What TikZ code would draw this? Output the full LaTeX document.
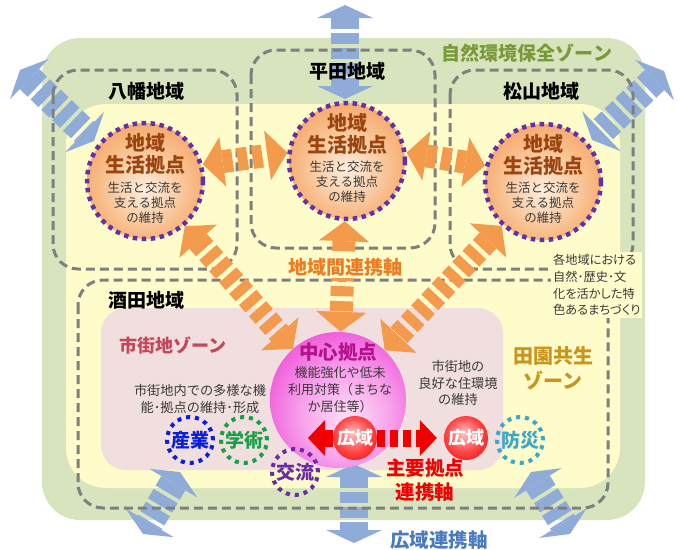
\documentclass[tikz,border=0pt]{standalone}
\usepackage{fontspec}
\setmainfont{Noto Sans CJK JP}
\usetikzlibrary{arrows.meta}
\definecolor{greenzone}{HTML}{D7E4BE}
\definecolor{yellowzone}{HTML}{FEFCCB}
\definecolor{pinkzone}{HTML}{F1DEDF}
\definecolor{dashgray}{HTML}{7F7F7F}
\definecolor{orangeax}{HTML}{F39A4C}
\definecolor{blueax}{HTML}{8FACD9}
\definecolor{purpledot}{HTML}{6430A8}
\definecolor{browntext}{HTML}{9A4510}
\definecolor{olivetext}{HTML}{7A9A3A}
\definecolor{orangetext}{HTML}{EE7B22}
\definecolor{zonered}{HTML}{C24759}
\definecolor{magtext}{HTML}{B3128C}
\definecolor{goldtext}{HTML}{C9951C}
\definecolor{redC}{HTML}{F00000}
\definecolor{bluetext}{HTML}{4A7BBF}
\definecolor{darktext}{HTML}{3A3A3A}
\definecolor{sangyoC}{HTML}{0A1FD8}
\definecolor{gakujutsuC}{HTML}{18A048}
\definecolor{koryuC}{HTML}{6A2CA0}
\definecolor{bosaiC}{HTML}{3EA6C6}
\definecolor{oc1}{HTML}{FDEEDF}
\definecolor{oc2}{HTML}{F8BC88}
\definecolor{oc3}{HTML}{EF8C42}
\definecolor{oc4}{HTML}{E6772A}
\definecolor{mc1}{HTML}{FFE2F7}
\definecolor{mc2}{HTML}{F8A4EB}
\definecolor{mc3}{HTML}{EE46D8}
\definecolor{mc4}{HTML}{DC0EC4}
\definecolor{rc1}{HTML}{FFC4C4}
\definecolor{rc2}{HTML}{FF4444}
\definecolor{rc3}{HTML}{E40000}
\definecolor{rc4}{HTML}{C80000}
\pgfdeclareradialshading{orangeball}{\pgfpoint{0bp}{-4bp}}{color(0bp)=(oc1); color(20bp)=(oc2); color(40bp)=(oc3); color(56bp)=(oc4)}
\pgfdeclareradialshading{magball}{\pgfpoint{4bp}{-8bp}}{color(0bp)=(mc1); color(16bp)=(mc2); color(34bp)=(mc3); color(58bp)=(mc4)}
\pgfdeclareradialshading{redball}{\pgfpoint{-3bp}{6bp}}{color(0bp)=(rc1); color(20bp)=(rc2); color(40bp)=(rc3); color(56bp)=(rc4)}
\tikzset{
  regionbox/.style={draw=dashgray, line width=3pt, dash pattern=on 9pt off 5pt, rounded corners=25pt},
  lifeball/.style={circle, minimum size=116pt, inner sep=0pt, shading=orangeball, draw=purpledot, line width=4.5pt, dash pattern=on 4.5pt off 4.5pt},
  centerball/.style={circle, minimum size=136pt, inner sep=0pt, shading=magball},
  wideball/.style={circle, minimum size=44pt, inner sep=0pt, shading=redball, text=white, font=\bfseries\fontsize{18}{20}\selectfont},
  smallring/.style={circle, minimum size=46pt, inner sep=0pt, line width=4pt, dash pattern=on 4pt off 5pt, font=\bfseries\fontsize{19}{21}\selectfont},
  ctitle/.style={align=center, inner sep=0pt, text=browntext, font=\bfseries\fontsize{20}{22}\selectfont},
  cbody/.style={align=center, inner sep=0pt, text=darktext, font=\fontsize{12.5}{15}\selectfont},
  region/.style={inner sep=0pt, font=\bfseries\fontsize{19}{21}\selectfont},
  note/.style={align=center, inner sep=0pt, text=darktext, font=\fontsize{13.2}{16.5}\selectfont},
  orangeaxis/.style={draw=orangeax, line width=23pt, dash pattern=on 10pt off 5pt,
    {Triangle[width=50pt,length=20pt,line width=0pt]}-{Triangle[width=50pt,length=20pt,line width=0pt]}},
  blueaxis/.style={draw=blueax, line width=28pt, dash pattern=on 11pt off 4pt,
    {Triangle[width=56pt,length=13pt,line width=0pt]}-{Triangle[width=56pt,length=13pt,line width=0pt]}},
  redaxis/.style={draw=redC, line width=17pt}
}
\begin{document}
\begin{tikzpicture}[x=1pt,y=-1pt]
\useasboundingbox (0,0) rectangle (680,549);
% zones
\fill[greenzone, rounded corners=38pt] (42,38) rectangle (645,520);
\fill[yellowzone, rounded corners=40pt] (66,104) rectangle (620,488);
\fill[pinkzone, rounded corners=25pt] (101,308) rectangle (503,470);
% wide-area axes (blue)
\coordinate (bT1) at (345,5);
\coordinate (bT2) at (345,99);
\coordinate (bTL1) at (20,70);
\coordinate (bTL2) at (94,141);
\coordinate (bTR1) at (664,71);
\coordinate (bTR2) at (592,140);
\coordinate (bB1) at (354,464);
\coordinate (bB2) at (354,543);
\coordinate (bBL1) at (180,472);
\coordinate (bBL2) at (143,534);
\coordinate (bBR1) at (531,472);
\coordinate (bBR2) at (570,534);
\draw[blueaxis] (bT1) -- (bT2);
\draw[blueaxis] (bTL1) -- (bTL2);
\draw[blueaxis] (bTR1) -- (bTR2);
\draw[blueaxis] (bB1) -- (bB2);
\draw[blueaxis] (bBL1) -- (bBL2);
\draw[blueaxis] (bBR1) -- (bBR2);
% region boxes
\draw[regionbox] (53,70) rectangle (237,269);
\draw[regionbox] (251,50) rectangle (435,248);
\draw[regionbox] (450,70) rectangle (633,269);
\draw[regionbox] (78,280) rectangle (608,508);
% hubs
\node[lifeball] (hachiman) at (145,181) {};
\node[lifeball] (hirata) at (347,161) {};
\node[lifeball] (matsuyama) at (543,182) {};
\node[centerball] (center) at (338,400) {};
% inter-regional axes (orange)
\draw[orangeaxis] (hachiman.16) -- (hirata.172);
\draw[orangeaxis] (hirata.8) -- (matsuyama.164);
\draw[orangeaxis] (hachiman) -- (center);
\draw[orangeaxis] (hirata) -- (center);
\draw[orangeaxis] (matsuyama) -- (center);
% hub texts
\node[ctitle] (hachimanT) at (145,154) {地域\\生活拠点};
\node[cbody] (hachimanB) at (145,203) {生活と交流を\\支える拠点\\の維持};
\node[ctitle] (hirataT) at (347,134) {地域\\生活拠点};
\node[cbody] (hirataB) at (347,182) {生活と交流を\\支える拠点\\の維持};
\node[ctitle] (matsuyamaT) at (543,155) {地域\\生活拠点};
\node[cbody] (matsuyamaB) at (543,203) {生活と交流を\\支える拠点\\の維持};
\node[ctitle, text=magtext, font=\bfseries\fontsize{19.5}{22}\selectfont] (centerT) at (338,352) {中心拠点};
\node[note, font=\fontsize{13}{17}\selectfont] (centerB) at (340,390) {機能強化や低未\\利用対策（まちな\\か居住等）};
% main hub axis (red)
\node[wideball] (ballA) at (355,438) {広域};
\node[wideball] (ballB) at (466,438) {広域};
\coordinate (redL) at (308,438);
\draw[redaxis, -{Triangle[width=36pt,length=17pt,line width=0pt]}] (ballA) -- (redL);
\draw[redaxis, dash pattern=on 8pt off 5pt, shorten >=7pt, -{Triangle[width=36pt,length=17pt,line width=0pt]}] (ballA) -- (ballB);
% function rings
\node[smallring, draw=sangyoC, text=sangyoC] (sangyo) at (190,440) {産業};
\node[smallring, draw=gakujutsuC, text=gakujutsuC] (gakujutsu) at (244,440) {学術};
\node[smallring, draw=koryuC, text=koryuC] (koryu) at (295,472) {交流};
\node[smallring, draw=bosaiC, text=bosaiC] (bosai) at (520,440) {防災};
% labels
\node[region, text=olivetext] (zoneNature) at (527,53) {自然環境保全ゾーン};
\node[region] (lblHachiman) at (146,91) {八幡地域};
\node[region] (lblHirata) at (347,71) {平田地域};
\node[region] (lblMatsuyama) at (541,91) {松山地域};
\node[region] (lblSakata) at (146,300) {酒田地域};
\node[region, text=orangetext, fill=yellowzone, inner sep=1.5pt] (lblInter) at (345,267) {地域間連携軸};
\node[region, text=zonered, font=\bfseries\fontsize{18}{20}\selectfont] (zoneUrban) at (173,345) {市街地ゾーン};
\node[note] (noteUrban) at (200,399) {市街地内での多様な機\\能･拠点の維持･形成};
\node[note] (noteLiving) at (458,383) {市街地の\\良好な住環境\\の維持};
\node[region, align=center, text=goldtext, font=\bfseries\fontsize{20}{25}\selectfont] (zoneRural) at (553,368) {田園共生\\ゾーン};
\node[note, align=left, anchor=west, fill=yellowzone, inner sep=2pt, font=\fontsize{12.2}{16.7}\selectfont\addfontfeatures{RawFeature=+palt}] (noteRegion) at (551,285) {各地域における\\自然･歴史･文\\化を活かした特\\色あるまちづくり};
\node[region, align=center, text=redC, font=\bfseries\fontsize{19.5}{24}\selectfont] (lblMain) at (425,480) {主要拠点\\連携軸};
\node[region, text=bluetext, font=\bfseries\fontsize{19.5}{22}\selectfont] (lblWide) at (439,540) {広域連携軸};
\end{tikzpicture}
\end{document}
